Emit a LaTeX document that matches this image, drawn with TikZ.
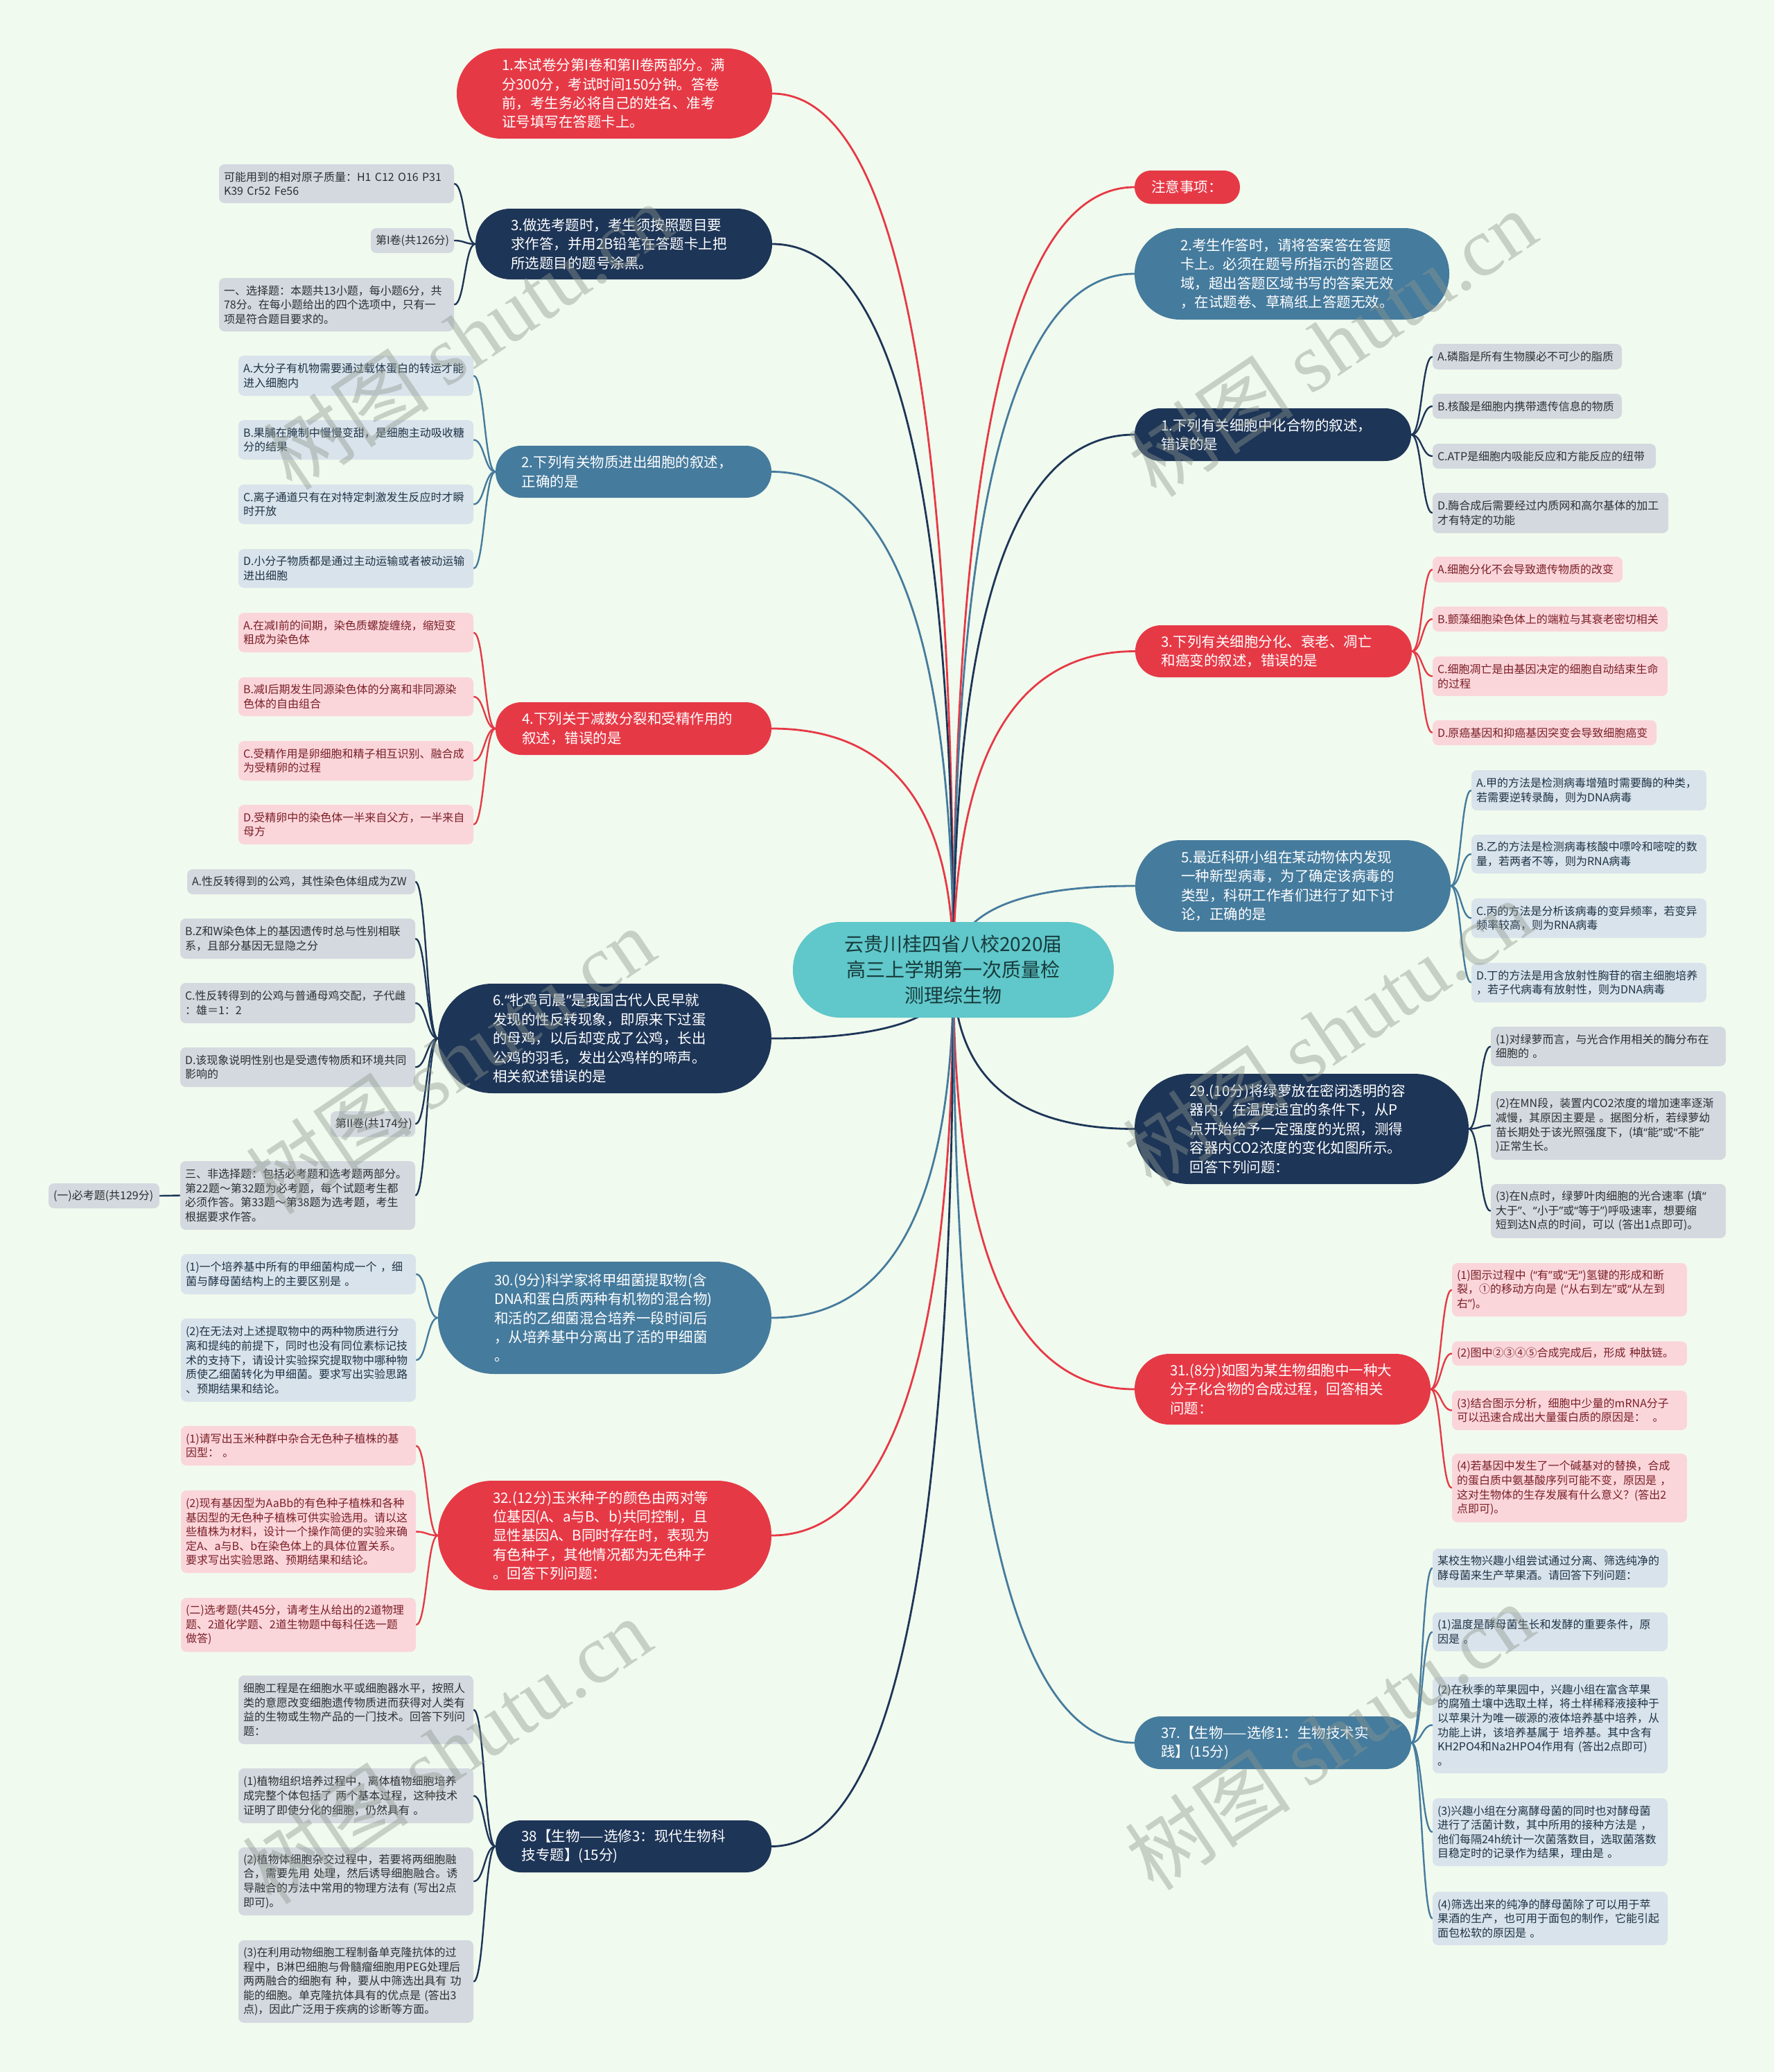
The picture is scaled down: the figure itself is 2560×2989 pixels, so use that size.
\documentclass[tikz,border=0pt]{standalone}
\usepackage{fontspec}
\setmainfont{Noto Sans CJK SC}
\newfontfamily\wmlat{Liberation Serif}
\newfontfamily\myqfont{Noto Sans}
\newcommand\myqo{{\myqfont “}}
\newcommand\myqc{{\myqfont ”}}
\usetikzlibrary{calc}
\definecolor{cRed}{HTML}{E63946}
\definecolor{cNavy}{HTML}{1D3557}
\definecolor{cBlue}{HTML}{457B9D}
\definecolor{cTeal}{HTML}{60C7CA}
\definecolor{bgc}{HTML}{F1FAEE}
\definecolor{lfGrey}{HTML}{D4D9DF}
\definecolor{lfPink}{HTML}{FAD6DB}
\definecolor{lfBlue}{HTML}{D9E3EB}
\definecolor{txGrey}{HTML}{2B2F33}
\definecolor{txPink}{HTML}{7A1F26}
\definecolor{txBlue}{HTML}{1E3346}
\definecolor{ctrText}{HTML}{173B3C}
\definecolor{wmc}{HTML}{8E978E}
\pgfdeclarelayer{bg}\pgfdeclarelayer{fg}\pgfsetlayers{bg,main,fg}

\tikzset{
  mainnode/.style={rectangle, inner xsep=0pt, inner ysep=0pt, align=left, text=white,
    font=\fontsize{20.5}{27.4}\selectfont},
  mred/.style={fill=cRed}, mnavy/.style={fill=cNavy}, mblue/.style={fill=cBlue},
  leafnode/.style={rectangle, rounded corners=8pt, inner xsep=7pt, inner ysep=0pt, align=left,
    font=\fontsize{16}{20.6}\selectfont},
  lgrey/.style={fill=lfGrey, text=txGrey},
  lpink/.style={fill=lfPink, text=txPink},
  lblue/.style={fill=lfBlue, text=txBlue},
  cedgestyle/.style={line width=2.8pt},
  ledgestyle/.style={line width=2.4pt},
  wmark/.style={text=wmc, text opacity=0.42, rotate=34, inner sep=0pt,
    font=\fontsize{120}{120}\selectfont}
}

% main node: name, style, cx, cy, W, H, text
\newcommand\mnnode[7]{%
  \pgfmathsetmacro\mtw{#5-#6}\pgfmathsetmacro\mrr{#6/2-0.5}%
  \node[mainnode,#2,minimum width=#5pt,minimum height=#6pt,text width=\mtw pt,rounded corners=\mrr pt] (#1) at (#3,#4) {#7};}
% leaf node: name, style, cx, cy, W, H, text
\newcommand\lfnode[7]{%
  \pgfmathsetmacro\lfw{#5-14}%
  \node[leafnode,#2,minimum width=#5pt,minimum height=#6pt,text width=\lfw pt] (#1) at (#3,#4) {#7};}
% centre edge: colour, node, anchor
\newcommand\cedge[3]{%
  \coordinate (q) at (ctr.center |- #2.#3);
  \draw[cedgestyle,#1] (ctr.center) .. controls ($(ctr.center)!0.667!(q)$) and ($(#2.#3)!0.667!(q)$) .. (#2.#3);}
% leaf edge, leaf on the left: colour, parent, leaf
\newcommand\edgeL[3]{%
  \coordinate (m) at ($(#2.west)!0.5!(#3.east)$);
  \draw[ledgestyle,#1] (#2.west) .. controls (m |- #2.west) and (m |- #3.east) .. (#3.east);}
% leaf edge, leaf on the right
\newcommand\edgeR[3]{%
  \coordinate (m) at ($(#2.east)!0.5!(#3.west)$);
  \draw[ledgestyle,#1] (#2.east) .. controls (m |- #2.east) and (m |- #3.west) .. (#3.west);}

\begin{document}
\begin{tikzpicture}[x=1pt,y=-1pt]
\useasboundingbox (0,0) rectangle (2560,2989);
\begin{pgfonlayer}{bg}
\fill[bgc] (0,0) rectangle (2560,2989);
\end{pgfonlayer}

% centre
\node[fill=cTeal, rounded corners=68.5pt, minimum width=463pt, minimum height=138pt, inner sep=0pt,
  align=center, text=ctrText, font=\fontsize{28}{37}\selectfont] (ctr) at (1375.5,1399)
  {云贵川桂四省八校2020届\\高三上学期第一次质量检\\测理综生物};

% left main nodes
\mnnode{L1}{mred}{886.5}{135}{455}{130}{1.本试卷分第I卷和第II卷两部分。满\\分300分，考试时间150分钟。答卷\\前，考生务必将自己的姓名、准考\\证号填写在答题卡上。}
\mnnode{L2}{mnavy}{900}{352}{428}{102}{3.做选考题时，考生须按照题目要\\求作答，并用2B铅笔在答题卡上把\\所选题目的题号涂黑。}
\mnnode{L3}{mblue}{914}{680.5}{398}{75}{2.下列有关物质进出细胞的叙述，\\正确的是}
\mnnode{L4}{mred}{914}{1051}{398}{76}{4.下列关于减数分裂和受精作用的\\叙述，错误的是}
\mnnode{L5}{mnavy}{872.5}{1498}{481}{158}{6.\myqo 牝鸡司晨\myqc 是我国古代人民早就\\发现的性反转现象，即原来下过蛋\\的母鸡，以后却变成了公鸡，长出\\公鸡的羽毛，发出公鸡样的啼声。\\相关叙述错误的是}
\mnnode{L6}{mblue}{872.5}{1901}{481}{162}{30.(9分)科学家将甲细菌提取物(含\\DNA和蛋白质两种有机物的混合物)\\和活的乙细菌混合培养一段时间后\\，从培养基中分离出了活的甲细菌\\。}
\mnnode{L7}{mred}{872.5}{2215}{481}{158}{32.(12分)玉米种子的颜色由两对等\\位基因(A、a与B、b)共同控制，且\\显性基因A、B同时存在时，表现为\\有色种子，其他情况都为无色种子\\。回答下列问题：}
\mnnode{L8}{mnavy}{914}{2663.5}{398}{75}{38【生物——选修3：现代生物科\\技专题】(15分)}

% right main nodes
\mnnode{R1}{mred}{1713}{270}{152}{48}{注意事项：}
\mnnode{R2}{mblue}{1864}{395}{454}{132}{2.考生作答时，请将答案答在答题\\卡上。必须在题号所指示的答题区\\域，超出答题区域书写的答案无效\\，在试题卷、草稿纸上答题无效。}
\mnnode{R3}{mnavy}{1836.5}{627}{399}{76}{1.下列有关细胞中化合物的叙述，\\错误的是}
\mnnode{R4}{mred}{1837.5}{939.5}{399}{75}{3.下列有关细胞分化、衰老、凋亡\\和癌变的叙述，错误的是}
\mnnode{R5}{mblue}{1865.5}{1278}{455}{132}{5.最近科研小组在某动物体内发现\\一种新型病毒，为了确定该病毒的\\类型，科研工作者们进行了如下讨\\论，正确的是}
\mnnode{R6}{mnavy}{1878}{1628.5}{482}{159}{29.(10分)将绿萝放在密闭透明的容\\器内，在温度适宜的条件下，从P\\点开始给予一定强度的光照，测得\\容器内CO2浓度的变化如图所示。\\回答下列问题：}
\mnnode{R7}{mred}{1850.5}{2004}{427}{102}{31.(8分)如图为某生物细胞中一种大\\分子化合物的合成过程，回答相关\\问题：}
\mnnode{R8}{mblue}{1836.5}{2514}{399}{76}{37.【生物——选修1：生物技术实\\践】(15分)}

% left leaves
\lfnode{a21}{lgrey}{485.5}{265}{339}{56}{可能用到的相对原子质量：H1~C12~O16~P31\\K39~Cr52~Fe56}
\lfnode{a22}{lgrey}{595}{347}{120}{36}{第I卷(共126分)}
\lfnode{a23}{lgrey}{485.5}{439.5}{339}{77}{一、选择题：本题共13小题，每小题6分，共\\78分。在每小题给出的四个选项中，只有一\\项是符合题目要求的。}
\lfnode{a31}{lblue}{513.5}{542}{339}{58}{A.大分子有机物需要通过载体蛋白的转运才能\\进入细胞内}
\lfnode{a32}{lblue}{513.5}{634.5}{339}{57}{B.果脯在腌制中慢慢变甜，是细胞主动吸收糖\\分的结果}
\lfnode{a33}{lblue}{513.5}{727.5}{339}{57}{C.离子通道只有在对特定刺激发生反应时才瞬\\时开放}
\lfnode{a34}{lblue}{513.5}{820}{339}{56}{D.小分子物质都是通过主动运输或者被动运输\\进出细胞}
\lfnode{a41}{lpink}{513.5}{912.5}{339}{57}{A.在减I前的间期，染色质螺旋缠绕，缩短变\\粗成为染色体}
\lfnode{a42}{lpink}{513.5}{1005}{339}{56}{B.减I后期发生同源染色体的分离和非同源染\\色体的自由组合}
\lfnode{a43}{lpink}{513.5}{1097.5}{339}{57}{C.受精作用是卵细胞和精子相互识别、融合成\\为受精卵的过程}
\lfnode{a44}{lpink}{513.5}{1189.5}{339}{57}{D.受精卵中的染色体一半来自父方，一半来自\\母方}
\lfnode{a51}{lgrey}{434.5}{1272}{329}{36}{A.性反转得到的公鸡，其性染色体组成为ZW}
\lfnode{a52}{lgrey}{429.5}{1354}{339}{58}{B.Z和W染色体上的基因遗传时总与性别相联\\系，且部分基因无显隐之分}
\lfnode{a53}{lgrey}{429.5}{1447}{339}{58}{C.性反转得到的公鸡与普通母鸡交配，子代雌\\：雄＝1：2}
\lfnode{a54}{lgrey}{429.5}{1539.5}{339}{57}{D.该现象说明性别也是受遗传物质和环境共同\\影响的}
\lfnode{a55}{lgrey}{538}{1621.5}{122}{37}{第II卷(共174分)}
\lfnode{a56}{lgrey}{429.5}{1724.5}{339}{99}{三、非选择题：包括必考题和选考题两部分。\\第22题～第32题为必考题，每个试题考生都\\必须作答。第33题～第38题为选考题，考生\\根据要求作答。}
\lfnode{a57}{lgrey}{150}{1725}{160}{36}{(一)必考题(共129分)}
\lfnode{a61}{lblue}{430.5}{1838}{339}{58}{(1)一个培养基中所有的甲细菌构成一个~，细\\菌与酵母菌结构上的主要区别是~。}
\lfnode{a62}{lblue}{430.5}{1962}{339}{120}{(2)在无法对上述提取物中的两种物质进行分\\离和提纯的前提下，同时也没有同位素标记技\\术的支持下，请设计实验探究提取物中哪种物\\质使乙细菌转化为甲细菌。要求写出实验思路\\、预期结果和结论。}
\lfnode{a71}{lpink}{430.5}{2085.5}{339}{57}{(1)请写出玉米种群中杂合无色种子植株的基\\因型：~。}
\lfnode{a72}{lpink}{430.5}{2209.5}{339}{119}{(2)现有基因型为AaBb的有色种子植株和各种\\基因型的无色种子植株可供实验选用。请以这\\些植株为材料，设计一个操作简便的实验来确\\定A、a与B、b在染色体上的具体位置关系。\\要求写出实验思路、预期结果和结论。}
\lfnode{a73}{lpink}{430.5}{2344}{339}{78}{(二)选考题(共45分，请考生从给出的2道物理\\题、2道化学题、2道生物题中每科任选一题\\做答)}
\lfnode{a81}{lgrey}{513.5}{2466.5}{339}{99}{细胞工程是在细胞水平或细胞器水平，按照人\\类的意愿改变细胞遗传物质进而获得对人类有\\益的生物或生物产品的一门技术。回答下列问\\题：}
\lfnode{a82}{lgrey}{513.5}{2590.5}{339}{79}{(1)植物组织培养过程中，离体植物细胞培养\\成完整个体包括了~两个基本过程，这种技术\\证明了即使分化的细胞，仍然具有~。}
\lfnode{a83}{lgrey}{513.5}{2714}{339}{98}{(2)植物体细胞杂交过程中，若要将两细胞融\\合，需要先用~处理，然后诱导细胞融合。诱\\导融合的方法中常用的物理方法有~(写出2点\\即可)。}
\lfnode{a84}{lgrey}{513.5}{2858.5}{339}{119}{(3)在利用动物细胞工程制备单克隆抗体的过\\程中，B淋巴细胞与骨髓瘤细胞用PEG处理后\\两两融合的细胞有~种，要从中筛选出具有~功\\能的细胞。单克隆抗体具有的优点是~(答出3\\点)，因此广泛用于疾病的诊断等方面。}

% right leaves
\lfnode{b31}{lgrey}{2203.5}{514.5}{273}{37}{A.磷脂是所有生物膜必不可少的脂质}
\lfnode{b32}{lgrey}{2203.5}{586}{273}{36}{B.核酸是细胞内携带遗传信息的物质}
\lfnode{b33}{lgrey}{2228}{658}{322}{36}{C.ATP是细胞内吸能反应和方能反应的纽带}
\lfnode{b34}{lgrey}{2237}{740}{340}{58}{D.酶合成后需要经过内质网和高尔基体的加工\\才有特定的功能}
\lfnode{b41}{lpink}{2204}{821.5}{274}{37}{A.细胞分化不会导致遗传物质的改变}
\lfnode{b42}{lpink}{2236.5}{893}{339}{36}{B.颤藻细胞染色体上的端粒与其衰老密切相关}
\lfnode{b43}{lpink}{2236.5}{975.5}{339}{57}{C.细胞凋亡是由基因决定的细胞自动结束生命\\的过程}
\lfnode{b44}{lpink}{2228.5}{1057}{323}{36}{D.原癌基因和抑癌基因突变会导致细胞癌变}
\lfnode{b51}{lblue}{2292.5}{1140}{339}{58}{A.甲的方法是检测病毒增殖时需要酶的种类，\\若需要逆转录酶，则为DNA病毒}
\lfnode{b52}{lblue}{2292.5}{1232}{339}{56}{B.乙的方法是检测病毒核酸中嘌呤和嘧啶的数\\量，若两者不等，则为RNA病毒}
\lfnode{b53}{lblue}{2292.5}{1324.5}{339}{57}{C.丙的方法是分析该病毒的变异频率，若变异\\频率较高，则为RNA病毒}
\lfnode{b54}{lblue}{2292.5}{1417.5}{339}{57}{D.丁的方法是用含放射性胸苷的宿主细胞培养\\，若子代病毒有放射性，则为DNA病毒}
\lfnode{b61}{lgrey}{2320.5}{1509.5}{339}{57}{(1)对绿萝而言，与光合作用相关的酶分布在\\细胞的~。}
\lfnode{b62}{lgrey}{2320.5}{1623.5}{339}{99}{(2)在MN段，装置内CO2浓度的增加速率逐渐\\减慢，其原因主要是~。据图分析，若绿萝幼\\苗长期处于该光照强度下，(填\myqo 能\myqc 或\myqo 不能\myqc\\)正常生长。}
\lfnode{b63}{lgrey}{2320.5}{1747}{339}{78}{(3)在N点时，绿萝叶肉细胞的光合速率~(填\myqo\\大于\myqc 、\myqo 小于\myqc 或\myqo 等于\myqc )呼吸速率，想要缩\\短到达N点的时间，可以~(答出1点即可)。}
\lfnode{b71}{lpink}{2264.5}{1860.5}{339}{77}{(1)图示过程中~(\myqo 有\myqc 或\myqo 无\myqc )氢键的形成和断\\裂，①的移动方向是~(\myqo 从右到左\myqc 或\myqo 从左到\\右\myqc )。}
\lfnode{b72}{lpink}{2264.5}{1952.5}{339}{35}{(2)图中②③④⑤合成完成后，形成~种肽链。}
\lfnode{b73}{lpink}{2264.5}{2034.5}{339}{57}{(3)结合图示分析，细胞中少量的mRNA分子\\可以迅速合成出大量蛋白质的原因是：~~。}
\lfnode{b74}{lpink}{2264.5}{2146.5}{339}{99}{(4)若基因中发生了一个碱基对的替换，合成\\的蛋白质中氨基酸序列可能不变，原因是~，\\这对生物体的生存发展有什么意义？(答出2\\点即可)。}
\lfnode{b81}{lblue}{2236.5}{2262}{339}{56}{某校生物兴趣小组尝试通过分离、筛选纯净的\\酵母菌来生产苹果酒。请回答下列问题：}
\lfnode{b82}{lblue}{2236.5}{2354}{339}{56}{(1)温度是酵母菌生长和发酵的重要条件，原\\因是~。}
\lfnode{b83}{lblue}{2236.5}{2488.5}{339}{139}{(2)在秋季的苹果园中，兴趣小组在富含苹果\\的腐殖土壤中选取土样，将土样稀释液接种于\\以苹果汁为唯一碳源的液体培养基中培养，从\\功能上讲，该培养基属于~培养基。其中含有\\KH2PO4和Na2HPO4作用有~(答出2点即可)\\。}
\lfnode{b84}{lblue}{2236.5}{2643}{339}{98}{(3)兴趣小组在分离酵母菌的同时也对酵母菌\\进行了活菌计数，其中所用的接种方法是~，\\他们每隔24h统计一次菌落数目，选取菌落数\\目稳定时的记录作为结果，理由是~。}
\lfnode{b85}{lblue}{2236.5}{2767.5}{339}{77}{(4)筛选出来的纯净的酵母菌除了可以用于苹\\果酒的生产，也可用于面包的制作，它能引起\\面包松软的原因是~。}

\begin{pgfonlayer}{bg}
% centre edges
\cedge{cRed}{L1}{east}
\cedge{cNavy}{L2}{east}
\cedge{cBlue}{L3}{east}
\cedge{cRed}{L4}{east}
\cedge{cNavy}{L5}{east}
\cedge{cBlue}{L6}{east}
\cedge{cRed}{L7}{east}
\cedge{cNavy}{L8}{east}
\cedge{cRed}{R1}{west}
\cedge{cBlue}{R2}{west}
\cedge{cNavy}{R3}{west}
\cedge{cRed}{R4}{west}
\cedge{cBlue}{R5}{west}
\cedge{cNavy}{R6}{west}
\cedge{cRed}{R7}{west}
\cedge{cBlue}{R8}{west}
% left leaf edges
\edgeL{cNavy}{L2}{a21}\edgeL{cNavy}{L2}{a22}\edgeL{cNavy}{L2}{a23}
\edgeL{cBlue}{L3}{a31}\edgeL{cBlue}{L3}{a32}\edgeL{cBlue}{L3}{a33}\edgeL{cBlue}{L3}{a34}
\edgeL{cRed}{L4}{a41}\edgeL{cRed}{L4}{a42}\edgeL{cRed}{L4}{a43}\edgeL{cRed}{L4}{a44}
\edgeL{cNavy}{L5}{a51}\edgeL{cNavy}{L5}{a52}\edgeL{cNavy}{L5}{a53}\edgeL{cNavy}{L5}{a54}
\edgeL{cNavy}{L5}{a55}\edgeL{cNavy}{L5}{a56}\edgeL{cNavy}{a56}{a57}
\edgeL{cBlue}{L6}{a61}\edgeL{cBlue}{L6}{a62}
\edgeL{cRed}{L7}{a71}\edgeL{cRed}{L7}{a72}\edgeL{cRed}{L7}{a73}
\edgeL{cNavy}{L8}{a81}\edgeL{cNavy}{L8}{a82}\edgeL{cNavy}{L8}{a83}\edgeL{cNavy}{L8}{a84}
% right leaf edges
\edgeR{cNavy}{R3}{b31}\edgeR{cNavy}{R3}{b32}\edgeR{cNavy}{R3}{b33}\edgeR{cNavy}{R3}{b34}
\edgeR{cRed}{R4}{b41}\edgeR{cRed}{R4}{b42}\edgeR{cRed}{R4}{b43}\edgeR{cRed}{R4}{b44}
\edgeR{cBlue}{R5}{b51}\edgeR{cBlue}{R5}{b52}\edgeR{cBlue}{R5}{b53}\edgeR{cBlue}{R5}{b54}
\edgeR{cNavy}{R6}{b61}\edgeR{cNavy}{R6}{b62}\edgeR{cNavy}{R6}{b63}
\edgeR{cRed}{R7}{b71}\edgeR{cRed}{R7}{b72}\edgeR{cRed}{R7}{b73}\edgeR{cRed}{R7}{b74}
\edgeR{cBlue}{R8}{b81}\edgeR{cBlue}{R8}{b82}\edgeR{cBlue}{R8}{b83}\edgeR{cBlue}{R8}{b84}\edgeR{cBlue}{R8}{b85}
\end{pgfonlayer}

\begin{pgfonlayer}{fg}
\node[wmark] (w1) at (675,485) {树图 {\wmlat shutu.cn}};
\node[wmark] (w2) at (1922,495) {树图 {\wmlat shutu.cn}};
\node[wmark] (w3) at (650,1530) {树图 {\wmlat shutu.cn}};
\node[wmark] (w4) at (1915,1490) {树图 {\wmlat shutu.cn}};
\node[wmark] (w5) at (645,2525) {树图 {\wmlat shutu.cn}};
\node[wmark] (w6) at (1918,2505) {树图 {\wmlat shutu.cn}};
\end{pgfonlayer}
\end{tikzpicture}
\end{document}
